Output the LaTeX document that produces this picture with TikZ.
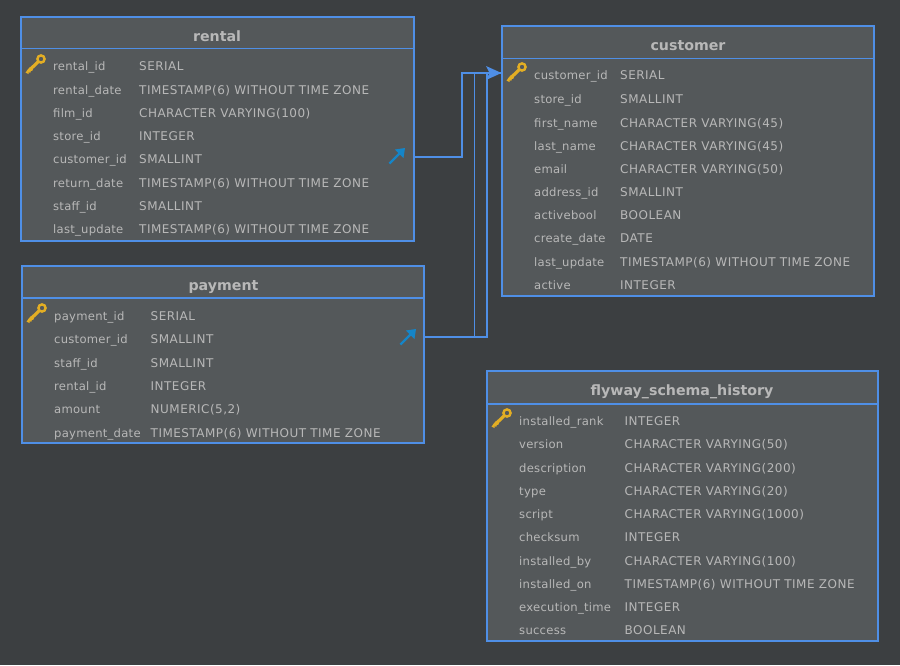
\documentclass[tikz,border=0pt]{standalone}
\usepackage{fontspec}
\setmainfont{DejaVu Sans}
\newfontfamily\colfont[LetterSpace=4]{DejaVu Sans}
\newfontfamily\namefont[LetterSpace=2.2]{DejaVu Sans}
\usetikzlibrary{calc,arrows.meta}
\definecolor{bgc}{HTML}{3C3F41}
\definecolor{boxc}{HTML}{54585A}
\definecolor{edgec}{HTML}{4F8FE6}
\definecolor{textc}{HTML}{B8B8B8}
\definecolor{keyc}{HTML}{E3AE24}
\definecolor{fkc}{HTML}{1585C8}
\tikzset{
 tbl/.style={draw=edgec,fill=boxc,line width=1.3pt},
 sep/.style={draw=edgec,line width=1.3pt},
 title/.style={text=textc,font=\fontsize{14.2}{16}\selectfont\bfseries,inner sep=0pt,anchor=base},
 col/.style={text=textc,font=\colfont\fontsize{12}{14}\selectfont,anchor=base west,inner sep=0pt},
 nam/.style={text=textc,font=\namefont\fontsize{11.6}{14}\selectfont,anchor=base west,inner sep=0pt},
 conn/.style={draw=edgec,line width=1.3pt},
 keyicon/.pic={
  \draw[keyc,line width=2.4pt] (6,-5) circle (3.6);
  \draw[keyc,line width=3.2pt] (3.5,-2.5) -- (-7,7.5);
  \fill[keyc] (-9.5,8.5) -- (-5,3) -- (-2,5.5) -- (-3,7) -- (-4.5,6.5) -- (-4.5,8.5) -- (-6.5,8) -- (-6.5,10) -- cycle;
 },
 fkicon/.pic={
  \draw[fkc,line width=2.4pt] (-7.5,7.5) -- (3,-3);
  \fill[fkc] (8,-8) -- (6.5,2) -- (-2,-6.5) -- cycle;
 }
}
\begin{document}
\begin{tikzpicture}[x=1pt,y=-1pt]
\useasboundingbox (0,0) rectangle (900,665);
\fill[bgc] (0,0) rectangle (900,665);

% rental
\draw[tbl] (21,17) rectangle (414,241);
\draw[sep] (21,48.5) -- (414,48.5);
\node[title] (rentalT) at (217,41) {rental};
\foreach \n/\t/\y/\i in {rental\_id/SERIAL/70/a,rental\_date/TIMESTAMP(6) WITHOUT TIME ZONE/94/b,film\_id/CHARACTER VARYING(100)/117/c,store\_id/INTEGER/140/d,customer\_id/SMALLINT/163/e,return\_date/TIMESTAMP(6) WITHOUT TIME ZONE/187/f,staff\_id/SMALLINT/210/g,last\_update/TIMESTAMP(6) WITHOUT TIME ZONE/233/h}{
 \node[nam] (r\i n) at (53,\y) {\n};
 \node[col] (r\i t) at (139,\y) {\t};
}
\pic at (35,64) {keyicon};
\pic at (397,156) {fkicon};

% payment
\draw[tbl] (22,266) rectangle (424,443);
\draw[sep] (22,298) -- (424,298);
\node[title] (paymentT) at (223.5,290) {payment};
\foreach \n/\t/\y/\i in {payment\_id/SERIAL/320/a,customer\_id/SMALLINT/343/b,staff\_id/SMALLINT/367/c,rental\_id/INTEGER/390/d,amount/NUMERIC(5{,}2)/413/e,payment\_date/TIMESTAMP(6) WITHOUT TIME ZONE/437/f}{
 \node[nam] (p\i n) at (54,\y) {\n};
 \node[col] (p\i t) at (150.5,\y) {\t};
}
\pic at (36,313) {keyicon};
\pic at (408,337) {fkicon};

% customer
\draw[tbl] (502,26) rectangle (874,296);
\draw[sep] (502,58.5) -- (874,58.5);
\node[title] (customerT) at (688,50) {customer};
\foreach \n/\t/\y/\i in {customer\_id/SERIAL/79/a,store\_id/SMALLINT/103/b,first\_name/CHARACTER VARYING(45)/127/c,last\_name/CHARACTER VARYING(45)/150/d,email/CHARACTER VARYING(50)/173/e,address\_id/SMALLINT/196/f,activebool/BOOLEAN/219/g,create\_date/DATE/242/h,last\_update/TIMESTAMP(6) WITHOUT TIME ZONE/266/i,active/INTEGER/289/j}{
 \node[nam] (c\i n) at (534,\y) {\n};
 \node[col] (c\i t) at (620,\y) {\t};
}
\pic at (516,72) {keyicon};

% flyway
\draw[tbl] (487,371) rectangle (878,641);
\draw[sep] (487,404) -- (878,404);
\node[title] (flywayT) at (682,395) {flyway\_schema\_history};
\foreach \n/\t/\y/\i in {installed\_rank/INTEGER/425/a,version/CHARACTER VARYING(50)/448/b,description/CHARACTER VARYING(200)/472/c,type/CHARACTER VARYING(20)/495/d,script/CHARACTER VARYING(1000)/518/e,checksum/INTEGER/541/f,installed\_by/CHARACTER VARYING(100)/565/g,installed\_on/TIMESTAMP(6) WITHOUT TIME ZONE/588/h,execution\_time/INTEGER/611/i,success/BOOLEAN/634/j}{
 \node[nam] (f\i n) at (519,\y) {\n};
 \node[col] (f\i t) at (624.5,\y) {\t};
}
\pic at (501,418) {keyicon};

% connectors
\coordinate (custIn) at (501.5,73);
\coordinate (rentOut) at (414,157);
\coordinate (payOut) at (424,337);
\draw[conn] (rentOut) -- (462,157) -- (462,73) -- (custIn);
\draw[conn] (payOut) -- (474.5,337) -- (474.5,73) -- (custIn);
\draw[conn] (payOut) -- (487,337) -- (487,73) -- (custIn);
\fill[edgec] (custIn) -- (486,66) -- (489.5,73) -- (486,80) -- cycle;
\end{tikzpicture}
\end{document}
